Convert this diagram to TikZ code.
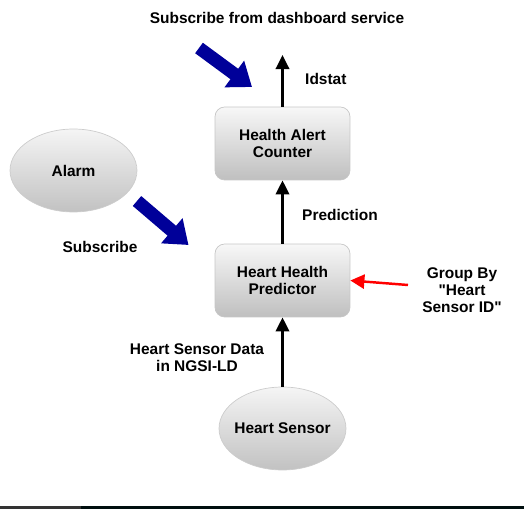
\documentclass[tikz,border=0pt]{standalone}
\usepackage{fontspec}
\setmainfont{Liberation Sans}[Ligatures=TeXOff]
\usetikzlibrary{arrows.meta,shapes.geometric}
\tikzset{
  proc/.style={draw=black!22, rounded corners=5.5pt, top color=black!3, bottom color=black!25,
    minimum width=2.7cm, minimum height=1.46cm, align=center},
  blob/.style={ellipse, draw=black!20, top color=black!4, bottom color=black!24,
    minimum width=2.54cm, minimum height=1.66cm, inner sep=0pt},
  flow/.style={line width=1.7pt, -{Triangle[length=8pt,width=7.5pt]}},
  sub/.style={draw=blue!60!black, line width=7.4pt, -{Triangle[length=12.5pt,width=18pt]}},
  lbl/.style={align=center}
}
\begin{document}
\begin{tikzpicture}[x=0.02cm, y=-0.02cm, every node/.append style={font=\fontsize{8.8pt}{9.6pt}\selectfont\bfseries}]
        \useasboundingbox (0,0) rectangle (524,509);
        % Boxes
        \node[proc] (cnt) at (282.5,143.5) {Health Alert\\Counter};
        \node[proc] (pred) at (282.5,280.5) {Heart Health\\Predictor};
        \node[blob, label=center:Heart Sensor] (sens) at (282.5,428.5) {};
        \node[blob, label=center:Alarm] (alarm) at (73.5,170.5) {};
        
        % Flow
        \coordinate (out) at (282.5,55);
        \draw[flow] (sens.north) -- (pred.south);
        \draw[flow] (pred.north) -- (cnt.south);
        \draw[flow] (cnt.north) -- (out);
        \node[lbl, anchor=west] at (299,79) {Idstat};
        \node[lbl, anchor=west] at (296,215) {Prediction};
        \node[lbl] at (197,358) {Heart Sensor Data\\in NGSI-LD};
        
        % Group by
        \coordinate (grp) at (408,285);
        \draw[red, line width=1.4pt, -{Triangle[length=8pt,width=8pt]}] (grp) -- (pred.east);
        \node[lbl] (grptxt) at (462,290) {Group By\\"Heart\\Sensor ID"};
        
        % Subscriptions
        \coordinate (d1) at (199,48);
        \coordinate (d2) at (252,87);
        \draw[sub] (d1) -- (d2);
        \node[lbl] (dash) at (277,18) {Subscribe from dashboard service};
        \coordinate (a1) at (137,201);
        \coordinate (a2) at (188.5,245);
        \draw[sub] (a1) -- (a2);
        \node[lbl] at (100,247) {Subscribe};
        
        % bottom strip
        \fill[black!80] (0,506) rectangle (81,509);
        \fill[black!80!teal!60!black] (81,506) rectangle (524,509);
\end{tikzpicture}
\end{document}
